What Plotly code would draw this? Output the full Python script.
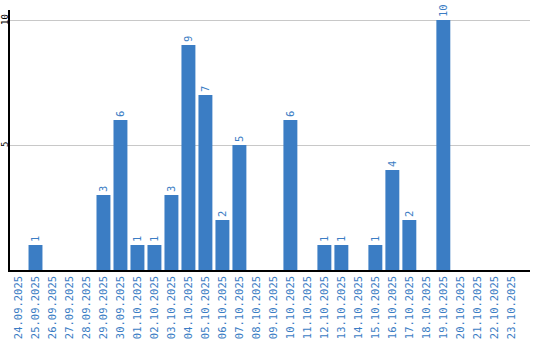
import plotly.graph_objects as go

dates = ["24.09.2025", "25.09.2025", "26.09.2025", "27.09.2025", "28.09.2025",
         "29.09.2025", "30.09.2025", "01.10.2025", "02.10.2025", "03.10.2025",
         "04.10.2025", "05.10.2025", "06.10.2025", "07.10.2025", "08.10.2025",
         "09.10.2025", "10.10.2025", "11.10.2025", "12.10.2025", "13.10.2025",
         "14.10.2025", "15.10.2025", "16.10.2025", "17.10.2025", "18.10.2025",
         "19.10.2025", "20.10.2025", "21.10.2025", "22.10.2025", "23.10.2025"]
counts = [0, 1, 0, 0, 0, 3, 6, 1, 1, 3, 9, 7, 2, 5, 0, 0, 6, 0, 1, 1,
          0, 1, 4, 2, 0, 10, 0, 0, 0, 0]
y_ticks = [5, 10]

BLUE = "#3b7dc4"
FONT = "DejaVu Sans Mono"

labels = [str(v) if v else "" for v in counts]

fig = go.Figure(go.Bar(
    x=dates, y=counts, text=labels, textposition="outside", textangle=-90,
    textfont=dict(family=FONT, size=10.5, color=BLUE), constraintext="none",
    cliponaxis=False, marker=dict(color=BLUE, line=dict(width=0)),
    hoverinfo="skip",
))

for t in y_ticks:
    fig.add_annotation(
        x=0, xref="paper", xanchor="center", xshift=-5,
        y=t, yref="y", yanchor="middle", text=str(t), textangle=-90,
        showarrow=False, font=dict(family=FONT, size=9, color="black"),
    )

fig.update_layout(
    width=540, height=340, margin=dict(l=10, r=10, t=10, b=70),
    paper_bgcolor="white", plot_bgcolor="white", bargap=0.18,
    showlegend=False, font=dict(family=FONT),
)
fig.update_xaxes(
    type="category", range=[-0.5, 30.1], tickangle=-90,
    tickfont=dict(family=FONT, size=10.5, color=BLUE),
    showline=True, linecolor="black", linewidth=1.5, showgrid=False,
    ticks="", automargin=False,
)
fig.update_yaxes(
    range=[0, 10.4], tickvals=y_ticks, showticklabels=False,
    showline=True, linecolor="black", linewidth=1.5,
    showgrid=True, gridcolor="#c8c8c8", gridwidth=1, zeroline=False,
    ticks="", automargin=False,
)

fig.write_html("out.html")
